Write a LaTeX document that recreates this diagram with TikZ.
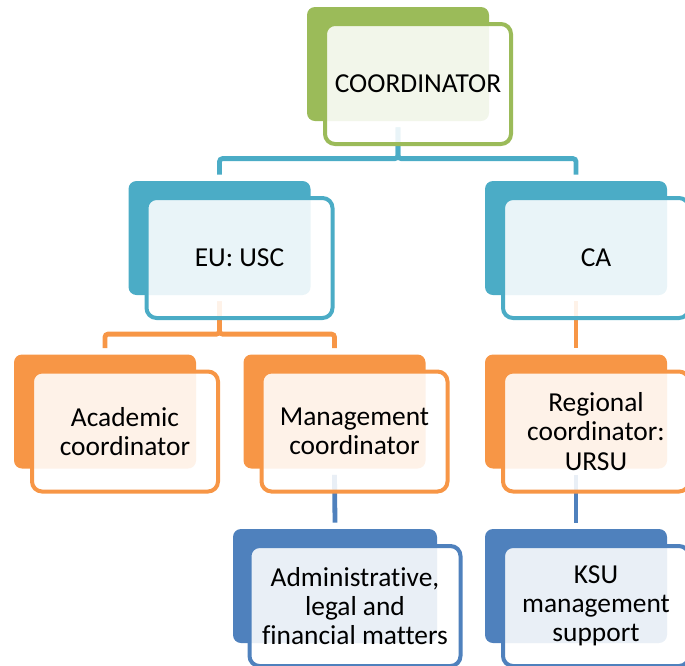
\documentclass[tikz,border=0pt]{standalone}
\usepackage{fontspec}
\setmainfont{Carlito}[RawFeature={-liga;-dlig;-calt;-clig}]
\usetikzlibrary{backgrounds,positioning}
\definecolor{cGreen}{RGB}{155,187,89}
\definecolor{cTeal}{RGB}{75,172,198}
\definecolor{cOrange}{RGB}{247,150,70}
\definecolor{cBlue}{RGB}{79,129,189}
\newcommand\boxfont{\fontsize{13.7}{14.6}\selectfont}
\tikzset{
  backbox/.style={rectangle, rounded corners=4pt, fill=#1, draw=none,
    minimum width=91pt, minimum height=57pt, inner sep=0pt},
  frontbox/.style={rectangle, rounded corners=5pt, draw=#1, line width=2pt,
    fill=white, fill opacity=0.88, text opacity=1,
    minimum width=93pt, minimum height=60pt, inner sep=0pt,
    align=center, font=\boxfont},
  link/.style={draw=#1, line width=2.4pt, rounded corners=1.5pt},
}

\begin{document}
\begin{tikzpicture}[x=0.5pt, y=-0.5pt]
    \clip (0,0) rectangle (685,665);

    % back plates
    \node[backbox=cGreen] (coordB) at (398,64) {};
    \node[backbox=cTeal] (euB) at (219.5,238) {};
    \node[backbox=cTeal] (caB) at (576,238) {};
    \node[backbox=cOrange] (acadB) at (105,411.5) {};
    \node[backbox=cOrange] (mgmtB) at (334.5,411.5) {};
    \node[backbox=cOrange] (regB) at (576,411.5) {};
    \node[backbox=cBlue, minimum width=102pt] (adminB) at (335,586) {};
    \node[backbox=cBlue] (ksuB) at (576,586) {};

    % framed text boxes
    \node[frontbox=cGreen] (coord) at ([shift={(20,20)}]coordB) {COORDINATOR};
    \node[frontbox=cTeal] (eu) at ([shift={(20,20)}]euB) {EU: USC};
    \node[frontbox=cTeal] (ca) at ([shift={(20,20)}]caB) {CA};
    \node[frontbox=cOrange] (acad) at ([shift={(20,20)}]acadB) {Academic\\coordinator};
    \node[frontbox=cOrange] (mgmt) at ([shift={(20,20)}]mgmtB) {Management\\coordinator};
    \node[frontbox=cOrange] (reg) at ([shift={(20,20)}]regB) {Regional\\coordinator:\\URSU};
    \node[frontbox=cBlue, minimum width=105.5pt] (admin) at ([shift={(20,20)}]adminB) {Administrative,\\legal and\\financial matters};
    \node[frontbox=cBlue] (ksu) at ([shift={(20,20)}]ksuB) {KSU\\management\\support};

    \begin{scope}[on background layer]
        \draw[link=cTeal] ([yshift=-3pt]coordB.south) |- ([yshift=11pt]euB.north) -- ([yshift=3pt]euB.north);
        \draw[link=cTeal] ([yshift=-3pt]coordB.south) |- ([yshift=11pt]caB.north) -- ([yshift=3pt]caB.north);
        \draw[link=cOrange] ([yshift=-3pt]euB.south) |- ([yshift=10pt]acadB.north) -- ([yshift=3pt]acadB.north);
        \draw[link=cOrange] ([yshift=-3pt]euB.south) |- ([yshift=10pt]mgmtB.north) -- ([yshift=3pt]mgmtB.north);
        \draw[link=cOrange] ([yshift=-3pt]caB.south) -- ([yshift=3pt]regB.north);
        \draw[link=cBlue] ([yshift=-3pt]mgmtB.south) -- ([yshift=3pt]adminB.north);
        \draw[link=cBlue] ([yshift=-3pt]regB.south) -- ([yshift=3pt]ksuB.north);
    \end{scope}
\end{tikzpicture}
\end{document}
